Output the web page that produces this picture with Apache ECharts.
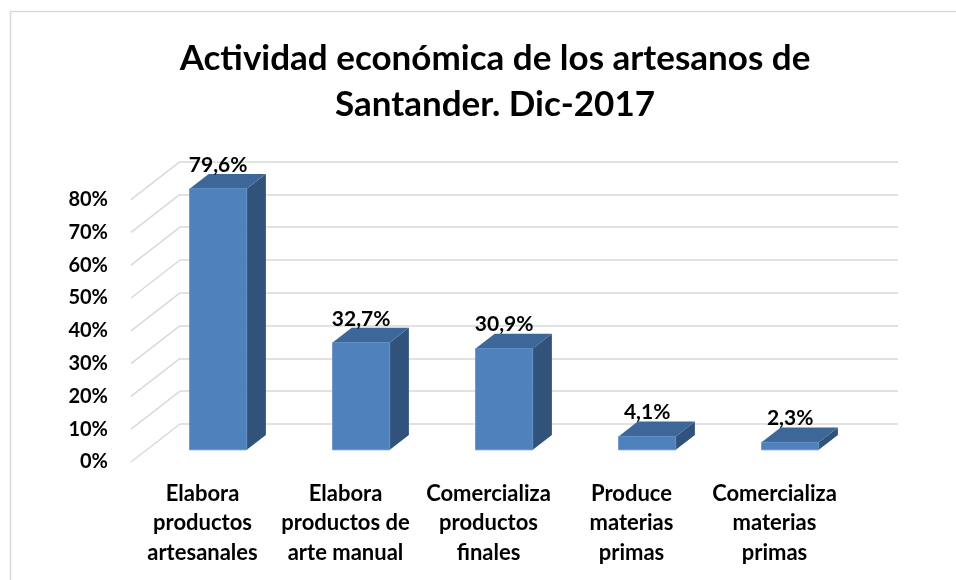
<!DOCTYPE html>
<html>
<head>
<meta charset="utf-8">
<script src="https://cdn.jsdelivr.net/npm/echarts@6/dist/echarts.min.js"></script>
<style>
  html, body { margin: 0; padding: 0; background: #fff; }
  #chart { width: 956px; height: 580px; }
</style>
</head>
<body>
<div id="chart"></div>
<script>
const categories = [
  'Elabora\nproductos\nartesanales',
  'Elabora\nproductos de\narte manual',
  'Comercializa\nproductos\nfinales',
  'Produce\nmaterias\nprimas',
  'Comercializa\nmaterias\nprimas'
];
const values = [79.6, 32.7, 30.9, 4.1, 2.3];
const valueLabels = ['79,6%', '32,7%', '30,9%', '4,1%', '2,3%'];
const yTicks = [0, 10, 20, 30, 40, 50, 60, 70, 80];

const FONT = 'Lato';
const WEIGHT = 'bold';
const FRONT = '#4f81bd';
const SIDE = '#30527b';
const TOP = '#3d6699';
const GRID_LINE = '#d9d9d9';

// oblique 3D: offset from front plane to back wall
const DX = 49;
const DY = -38;
const FRONT_LEFT = 131;
const FRONT_WIDTH = 715;
const FRONT_TOP = 199.6;
const FRONT_BOTTOM = 462;

const BAR_RATIO = 0.4;
const BAR_FRONT = 0.32; // depth position of bar front face
const BAR_DEPTH = 0.39;

function renderWall(params, api) {
  const v = api.value(0);
  const x0 = params.coordSys.x;
  const y0 = api.coord([0, v])[1];
  return {
    type: 'line',
    shape: { x1: x0, y1: y0, x2: x0 + DX, y2: y0 + DY },
    style: { stroke: GRID_LINE, lineWidth: 1.5 }
  };
}

function renderBar(params, api) {
  const i = api.value(0);
  const v = api.value(1);
  const base = api.coord([i, 0]);
  const top = api.coord([i, v]);
  const w = api.size([1, 0])[0] * BAR_RATIO;
  const ox = BAR_FRONT * DX, oy = BAR_FRONT * DY;
  const dx = BAR_DEPTH * DX, dy = BAR_DEPTH * DY;
  const xl = base[0] - w / 2 + ox;
  const xr = base[0] + w / 2 + ox;
  const yb = base[1] + oy;
  const yt = top[1] + oy;
  return {
    type: 'group',
    children: [
      {
        type: 'polygon',
        shape: { points: [[xr, yb], [xr + dx, yb + dy], [xr + dx, yt + dy], [xr, yt]] },
        style: { fill: SIDE }
      },
      {
        type: 'polygon',
        shape: { points: [[xl, yt], [xr, yt], [xr + dx, yt + dy], [xl + dx, yt + dy]] },
        style: { fill: TOP }
      },
      {
        type: 'rect',
        shape: { x: xl, y: yt, width: xr - xl, height: yb - yt },
        style: { fill: FRONT, stroke: '#5a8ac4', lineWidth: 0.8 }
      },
      {
        type: 'text',
        style: {
          x: base[0] + ox, y: yt + dy - 9,
          text: valueLabels[params.dataIndex],
          align: 'center', verticalAlign: 'middle',
          font: `${WEIGHT} 21px ${FONT}`, fill: '#000'
        }
      }
    ]
  };
}

const chart = echarts.init(document.getElementById('chart'));

chart.setOption({
  animation: false,
  title: {
    text: 'Actividad económica de los artesanos de\nSantander. Dic-2017',
    left: 490,
    top: 31,
    textAlign: 'center',
    textStyle: { fontFamily: FONT, fontWeight: WEIGHT, fontSize: 35, lineHeight: 45.5, color: '#000' }
  },
  graphic: [{
    type: 'rect',
    shape: { x: 10.5, y: 11.5, width: 960, height: 600 },
    style: { fill: 'none', stroke: GRID_LINE, lineWidth: 1.5 },
    silent: true
  }],
  grid: [
    { left: FRONT_LEFT, width: FRONT_WIDTH, top: FRONT_TOP, height: FRONT_BOTTOM - FRONT_TOP },
    { left: FRONT_LEFT + DX, width: FRONT_WIDTH + 3, top: FRONT_TOP + DY, height: FRONT_BOTTOM - FRONT_TOP }
  ],
  xAxis: [
    {
      type: 'category', gridIndex: 0, data: categories,
      axisLine: { show: false }, axisTick: { show: false },
      axisLabel: {
        interval: 0, margin: 17, color: '#000',
        fontFamily: FONT, fontWeight: WEIGHT, fontSize: 22, lineHeight: 29.5
      }
    },
    { type: 'category', gridIndex: 1, data: categories, show: false }
  ],
  yAxis: [
    {
      type: 'value', gridIndex: 0, min: 0, max: 80, interval: 10,
      axisLine: { show: false }, axisTick: { show: false }, splitLine: { show: false },
      axisLabel: {
        margin: 23, color: '#000', formatter: '{value}%',
        fontFamily: FONT, fontWeight: WEIGHT, fontSize: 20
      }
    },
    {
      type: 'value', gridIndex: 1, min: 0, max: 80, interval: 10,
      axisLine: { show: false }, axisTick: { show: false }, axisLabel: { show: false },
      splitLine: { lineStyle: { color: GRID_LINE, width: 1.5 } }
    }
  ],
  series: [
    {
      type: 'custom', xAxisIndex: 0, yAxisIndex: 0,
      renderItem: renderWall,
      data: yTicks.map(t => [t]),
      silent: true, z: 1
    },
    {
      type: 'custom', xAxisIndex: 0, yAxisIndex: 0,
      renderItem: renderBar,
      data: values.map((v, i) => [i, v]),
      z: 3
    }
  ]
});
</script>
</body>
</html>
